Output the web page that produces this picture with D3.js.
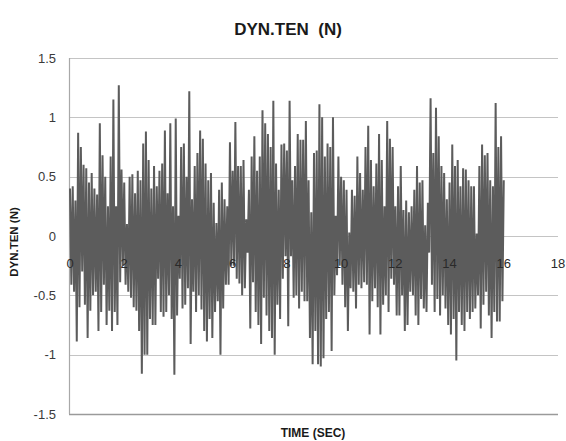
<!DOCTYPE html>
<html>
<head>
<meta charset="utf-8">
<script src="https://cdn.jsdelivr.net/npm/d3@7"></script>
<style>
  html, body { margin: 0; padding: 0; background: #ffffff; }
  svg { display: block; }
  text { font-family: "Liberation Sans Narrow", "Liberation Sans", Arial, sans-serif; }
</style>
</head>
<body>
<svg id="chart" width="566" height="441"></svg>
<script>
// Dynamic tension record, 0–16 s. Each 0.1 s window keeps its local
// maximum (at t) and local minimum (at t + 0.05 s).
const sampleStep = 0.1;

const peakValues = [
  0.40, 0.42, 0.30, 0.87, 0.75, 0.60, 0.57, 0.45, 0.53, 0.40,
  0.35, 0.95, 0.68, 0.50, 0.25, 0.67, 1.15, 0.25, 1.27, 0.56,
  0.45, 0.10, 0.50, 0.52, 0.36, 0.55, 0.47, 0.78, 0.88, 0.64,
  0.40, 0.59, 0.42, 0.55, 0.61, 0.89, 0.36, 0.95, 0.25, 0.99,
  0.17, 0.75, 0.78, 0.50, 1.22, 0.31, 0.59, 0.70, 0.89, 0.82,
  0.61, 0.47, 0.53, 0.28, 0.11, 0.39, 0.45, 0.31, 0.25, 0.79,
  0.55, 0.96, 0.59, 0.59, 0.64, 0.14, 0.39, 0.67, 0.84, 0.55,
  0.67, 1.06, 0.95, 0.86, 0.75, 1.14, 0.61, 0.39, 0.77, 0.78,
  0.72, 1.14, 0.47, 0.59, 0.86, 0.81, 0.81, 0.97, 0.47, 0.20,
  0.70, 0.72, 1.11, 1.00, 0.67, 0.78, 0.75, 1.00, 0.17, 0.67,
  0.50, 0.47, 0.39, 0.03, 0.39, 0.34, 0.67, 0.53, 0.39, 0.75,
  0.93, 0.64, 0.42, 0.61, 0.86, 0.64, 0.25, 0.97, 0.82, 0.75,
  0.25, 0.42, 0.59, 0.22, 0.30, 0.20, 0.25, 0.39, 0.59, 0.45,
  0.47, 0.09, 0.28, 1.16, 0.70, 1.08, 0.84, 0.59, 0.53, 0.31,
  0.45, 0.77, 0.59, 0.64, 0.42, 0.57, 0.56, 0.47, 0.42, 0.42,
  0.02, 0.59, 0.77, 0.68, 0.70, 0.47, 0.42, 1.12, 0.75, 0.84,
  0.47
];

const troughValues = [
  -0.41, -0.47, -0.89, -0.60, -0.30, -0.58, -0.86, -0.63, -0.50, -0.47,
  -0.80, -0.64, -0.41, -0.75, -0.63, -0.80, -0.64, -0.75, -0.39, -0.25,
  -0.41, -0.47, -0.52, -0.60, -0.63, -0.80, -1.16, -1.00, -1.00, -0.70,
  -0.75, -0.75, -0.36, -0.64, -0.68, -0.64, -0.50, -0.70, -1.17, -0.67,
  -0.36, -0.61, -0.58, -0.44, -0.91, -0.47, -0.64, -0.50, -0.62, -0.80,
  -0.89, -0.70, -0.86, -0.64, -0.55, -1.00, -0.61, -0.41, -0.41, -0.25,
  -0.25, -0.36, -0.40, -0.50, -0.44, -0.14, -0.78, -0.39, -0.64, -0.75,
  -0.91, -0.52, -0.67, -0.80, -0.86, -1.00, -0.58, -0.70, -0.36, -0.17,
  -0.76, -0.17, -0.52, -0.50, -0.61, -0.47, -0.55, -0.55, -0.86, -1.08,
  -0.80, -1.08, -1.10, -1.03, -0.70, -0.64, -0.97, -0.50, -0.33, -0.25,
  -0.41, -0.60, -0.80, -0.44, -0.47, -0.61, -0.41, -0.44, -0.39, -0.41,
  -0.83, -0.55, -0.44, -0.60, -0.83, -0.58, -0.50, -0.64, -0.36, -0.41,
  -0.67, -0.67, -0.50, -0.80, -0.75, -0.47, -0.50, -0.67, -0.75, -0.53,
  -0.61, -0.64, -0.14, -0.41, -0.64, -0.53, -0.67, -0.50, -0.61, -0.75,
  -0.83, -0.70, -1.05, -0.64, -0.75, -0.80, -0.64, -0.70, -0.64, -0.61,
  -0.50, -0.78, -0.58, -0.47, -0.67, -0.86, -0.64, -0.72, -0.72, -0.55
];

const xTicks = [0, 2, 4, 6, 8, 10, 12, 14, 16, 18];
const yTicks = [1.5, 1, 0.5, 0, -0.5, -1, -1.5];

const chartTitle = "DYN.TEN  (N)";
const xTitle = "TIME (SEC)";
const yTitle = "DYN.TEN (N)";

// Merge maxima and minima into one time-ordered trace
const samples = [];
peakValues.forEach((v, i) => {
  samples.push({ t: i * sampleStep, v });
  if (i < troughValues.length) {
    samples.push({ t: i * sampleStep + sampleStep / 2, v: troughValues[i] });
  }
});

const svg = d3.select("#chart");

const x = d3.scaleLinear().domain([0, 18]).range([70, 558]);
const y = d3.scaleLinear().domain([-1.5, 1.5]).range([414, 58]);
const plotLeft = 69, plotRight = 558;

// Horizontal gridlines
svg.append("g")
  .selectAll("line")
  .data(yTicks.filter(d => d !== -1.5))
  .join("line")
  .attr("x1", plotLeft).attr("x2", plotRight)
  .attr("y1", d => Math.round(y(d)) + 0.5).attr("y2", d => Math.round(y(d)) + 0.5)
  .attr("stroke", "#c4c4c4").attr("stroke-width", 1.2);

// Bottom axis line and left axis line
svg.append("line")
  .attr("x1", plotLeft).attr("x2", plotRight)
  .attr("y1", Math.round(y(-1.5)) + 0.5).attr("y2", Math.round(y(-1.5)) + 0.5)
  .attr("stroke", "#9a9a9a").attr("stroke-width", 1.3);
svg.append("line")
  .attr("x1", plotLeft + 0.5).attr("x2", plotLeft + 0.5)
  .attr("y1", y(1.5)).attr("y2", y(-1.5))
  .attr("stroke", "#a8a8a8").attr("stroke-width", 1.2);

// Signal trace
const line = d3.line().x(d => x(d.t)).y(d => y(d.v));
svg.append("path")
  .datum(samples)
  .attr("d", line)
  .attr("fill", "none")
  .attr("stroke", "#5c5c5c")
  .attr("stroke-width", 2)
  .attr("stroke-linejoin", "miter")
  .attr("stroke-miterlimit", 1.5);

// Y tick labels
svg.append("g")
  .selectAll("text")
  .data(yTicks)
  .join("text")
  .attr("x", 56)
  .attr("y", d => y(d))
  .attr("dy", "0.36em")
  .attr("text-anchor", "end")
  .attr("font-size", 13)
  .attr("fill", "#3a3a3a")
  .text(d => String(d));

// X tick labels, sitting on the zero line
svg.append("g")
  .selectAll("text")
  .data(xTicks)
  .join("text")
  .attr("x", d => x(d))
  .attr("y", y(0) + 32)
  .attr("text-anchor", "middle")
  .attr("font-size", 13)
  .attr("fill", "#2a2a2a")
  .text(d => d);

// Titles
svg.append("text")
  .attr("x", 288).attr("y", 35)
  .attr("text-anchor", "middle")
  .attr("font-size", 17).attr("font-weight", "bold")
  .attr("fill", "#1a1a1a")
  .style("white-space", "pre")
  .text(chartTitle);

svg.append("text")
  .attr("x", 313).attr("y", 437)
  .attr("text-anchor", "middle")
  .attr("font-size", 12).attr("font-weight", "bold")
  .attr("fill", "#1a1a1a")
  .text(xTitle);

svg.append("text")
  .attr("transform", `translate(18, ${y(0) + 6}) rotate(-90)`)
  .attr("text-anchor", "middle")
  .attr("font-size", 11.5).attr("font-weight", "bold")
  .attr("fill", "#1a1a1a")
  .text(yTitle);
</script>
</body>
</html>
